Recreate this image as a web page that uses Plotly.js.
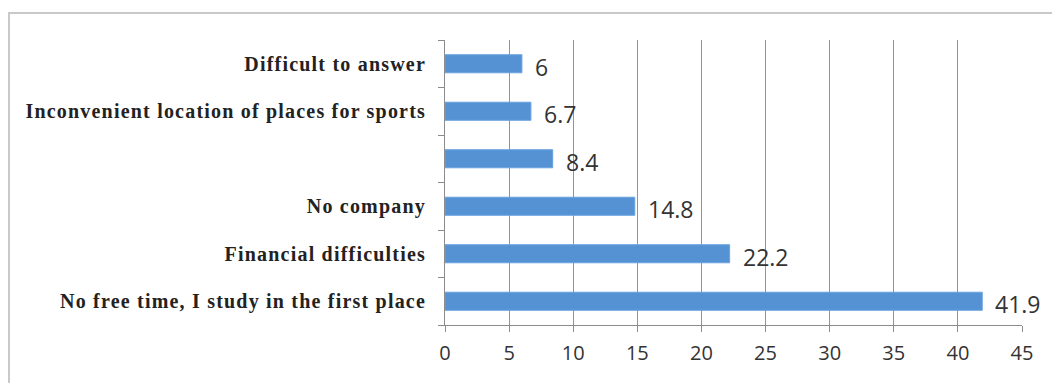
<!DOCTYPE html>
<html>
<head>
<meta charset="utf-8">
<script src="https://cdn.plot.ly/plotly-3.0.1.min.js"></script>
<style>
html,body{margin:0;padding:0;background:#fff;overflow:hidden;}
#frame{position:absolute;left:8px;top:12px;width:1100px;height:420px;border:2px solid #c9c9c9;box-sizing:border-box;pointer-events:none;}
#chart{position:absolute;left:0;top:0;width:1052px;height:383px;}
#chart .ytick text{letter-spacing:1.2px;}
</style>
</head>
<body>
<div id="chart"></div>
<div id="frame"></div>
<script>
var categories = ["Difficult to answer", "Inconvenient location of places for sports", " ", "No company", "Financial difficulties", "No free time, I study in the first place"];
var values = [6, 6.7, 8.4, 14.8, 22.2, 41.9];
var valueLabels = ["6", "6.7", "8.4", "14.8", "22.2", "41.9"];
var xTicks = [0, 5, 10, 15, 20, 25, 30, 35, 40, 45];

var trace = {
  type: 'bar',
  orientation: 'h',
  x: values,
  y: categories,
  marker: {color: '#5592d4', line: {color: '#6aa3df', width: 1}},
  width: 0.38,
  hoverinfo: 'none'
};

var annotations = values.map(function(v, i){
  return {
    x: v, y: categories[i], xref: 'x', yref: 'y',
    text: valueLabels[i], showarrow: false,
    xanchor: 'left', yanchor: 'middle', xshift: 11, yshift: -3,
    font: {family: 'Open Sans, Carlito, sans-serif', size: 23, color: '#333'}
  };
});

var layout = {
  width: 1052, height: 383,
  margin: {l: 445, r: 30, t: 40, b: 58, pad: 0},
  paper_bgcolor: 'rgba(0,0,0,0)',
  plot_bgcolor: '#fff',
  showlegend: false,
  bargap: 0.62,
  xaxis: {
    range: [0, 45], tickvals: xTicks, ticktext: xTicks.map(String),
    showgrid: true, gridcolor: '#949494', gridwidth: 1,
    showline: true, linecolor: '#8c8c8c', linewidth: 1,
    ticks: 'outside', ticklen: 6, tickcolor: '#8c8c8c',
    tickfont: {family: 'Open Sans, Carlito, sans-serif', size: 20, color: '#333'},
    ticklabelstandoff: 4,
    zeroline: false, fixedrange: true
  },
  yaxis: {
    type: 'category',
    categoryorder: 'array',
    categoryarray: categories.slice().reverse(),
    showline: true, linecolor: '#8c8c8c', linewidth: 1,
    ticks: 'outside', ticklen: 6, tickcolor: '#8c8c8c',
    tickson: 'boundaries',
    showgrid: false,
    ticklabelstandoff: 14,
    tickfont: {family: 'Liberation Serif, Times New Roman, serif', size: 20, color: '#222', weight: 'bold'},
    fixedrange: true
  },
  annotations: annotations
};

Plotly.newPlot('chart', [trace], layout, {displayModeBar: false, staticPlot: true});
</script>
</body>
</html>
